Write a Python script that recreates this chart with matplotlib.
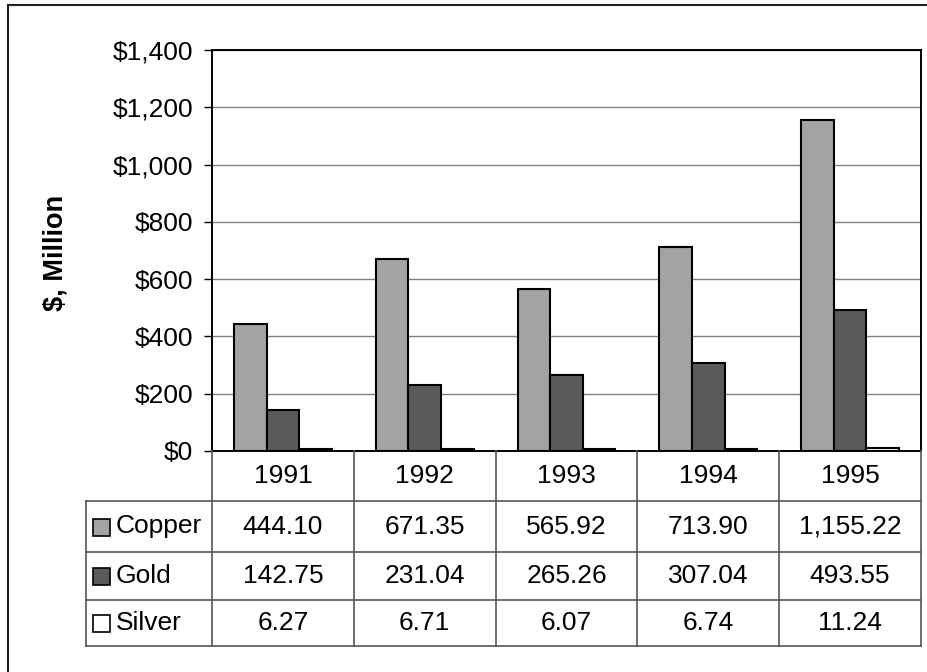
import matplotlib.pyplot as plt
from matplotlib.patches import Rectangle
from matplotlib.ticker import FuncFormatter

years = ['1991', '1992', '1993', '1994', '1995']
copper = [444.10, 671.35, 565.92, 713.90, 1155.22]
gold = [142.75, 231.04, 265.26, 307.04, 493.55]
silver = [6.27, 6.71, 6.07, 6.74, 11.24]

series = [('Copper', copper, '#a3a3a3'),
          ('Gold', gold, '#5a5a5a'),
          ('Silver', silver, '#ffffff')]

plt.rcParams['font.family'] = ['Liberation Sans', 'DejaVu Sans']
plt.rcParams['font.size'] = 19

W, H = 928, 672
fig = plt.figure(figsize=(W / 100, H / 100), dpi=100)

# outer chart border (runs off the right and bottom edges)
fig.patches.append(Rectangle((8 / W, -0.05), 1.2, 1 - 4.5 / H + 0.05,
                             transform=fig.transFigure, fill=False,
                             edgecolor='#202020', linewidth=1.5))

# bar plot area
ax = fig.add_axes([212 / W, 1 - 451 / H, (921 - 212) / W, (451 - 50) / H])
x = range(len(years))
bw = 0.23
for i, (name, vals, col) in enumerate(series):
    ax.bar([k + (i - 1) * bw for k in x], vals, width=bw, color=col,
           edgecolor='black', linewidth=1.5, zorder=3)

ax.set_xlim(-0.5, len(years) - 0.5)
ax.set_ylim(0, 1400)
ax.set_yticks(range(0, 1401, 200))
ax.yaxis.set_major_formatter(FuncFormatter(lambda v, p: f'${v:,.0f}'))
ax.tick_params(axis='y', length=5.8, width=1, pad=8)
ax.set_xticks([])
ax.grid(axis='y', color='#808080', linewidth=1, zorder=0)
for s in ax.spines.values():
    s.set_color('black')
    s.set_linewidth(1.4)

fig.text(56 / W, 1 - 253 / H, '$, Million', rotation=90, fontweight='bold',
         fontsize=19.5, ha='center', va='center')

# data table under the plot, drawn in pixel units
tx = fig.add_axes([0, 0, 1, 1])
tx.set_xlim(0, W)
tx.set_ylim(H, 0)
tx.axis('off')

col_edges = [212 + k * (921 - 212) / len(years) for k in range(len(years) + 1)]
row_edges = [451, 501, 552, 600, 646]
lc = '#555555'
for r in row_edges[1:]:
    tx.plot([86, 921], [r, r], color=lc, lw=1.2)
tx.plot([86, 86], [row_edges[1], row_edges[-1]], color=lc, lw=1.2)
for c in col_edges:
    tx.plot([c, c], [row_edges[0], row_edges[-1]], color=lc, lw=1.2)

centers = [(a + b) / 2 for a, b in zip(col_edges[:-1], col_edges[1:])]
for cx, yr in zip(centers, years):
    tx.text(cx, (row_edges[0] + row_edges[1]) / 2, yr, ha='center', va='center')

for r, (name, vals, col) in enumerate(series, start=1):
    cy = (row_edges[r] + row_edges[r + 1]) / 2
    tx.add_patch(Rectangle((93, cy - 8), 17, 17, facecolor=col,
                           edgecolor='black', lw=1.2))
    tx.text(116, cy, name, ha='left', va='center')
    for cx, v in zip(centers, vals):
        tx.text(cx, cy, f'{v:,.2f}', ha='center', va='center')

fig.savefig('out.png', dpi=100)
